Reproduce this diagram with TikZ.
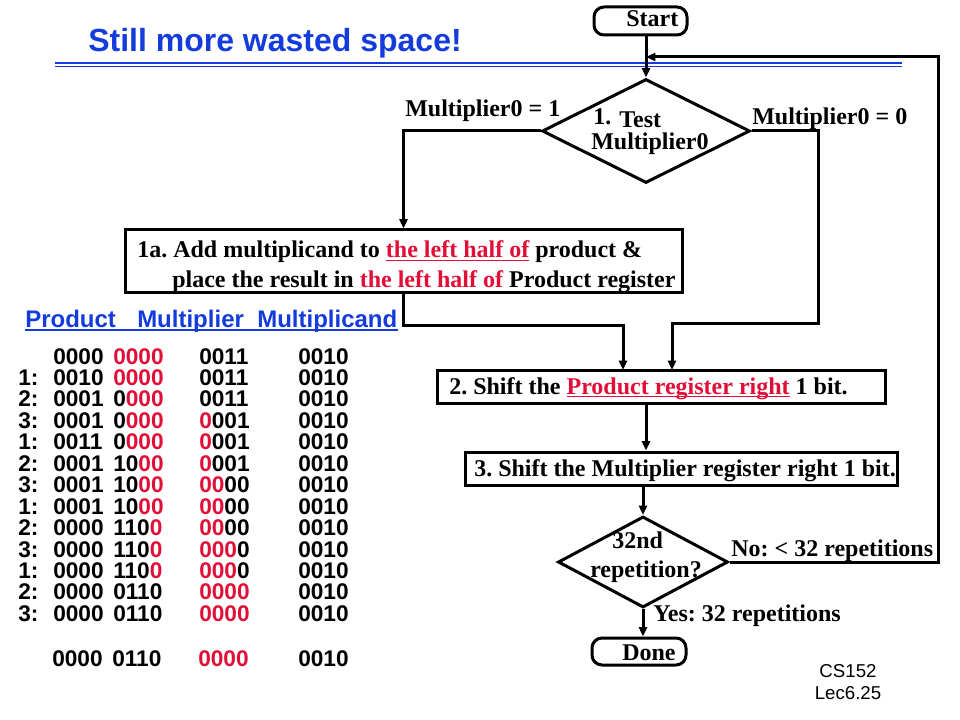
\documentclass[tikz,border=0pt]{standalone}
\usepackage{fontspec}
\setmainfont{Liberation Serif}
\newfontfamily\arialfont{Liberation Sans}
\usetikzlibrary{arrows.meta, shapes.geometric}
\definecolor{titleblue}{RGB}{20,60,220}
\definecolor{bitred}{RGB}{225,15,55}
\newcommand\ulin[2][1pt]{\setbox0=\hbox{#2}\rlap{\rule[-2.6pt]{\wd0}{#1}}\box0}
\frenchspacing

\begin{document}
\begin{tikzpicture}[x=0.75pt, y=-0.75pt, >={Triangle[length=7pt,width=6pt]},
        flowline/.style={->, line width=2.25pt},
        box/.style={draw, line width=2.25pt, inner sep=0pt},
        decision/.style={draw, diamond, line width=2.25pt, inner sep=0pt},
        terminal/.style={draw, line width=2.25pt, rounded corners=7.5pt, inner sep=0pt},
        flowtext/.style={font=\fontsize{18}{20}\selectfont\bfseries, inner sep=0pt, anchor=base west},
        tabtext/.style={font=\arialfont\fontsize{17}{19}\selectfont\bfseries, inner sep=0pt, anchor=base west},
        tabhead/.style={font=\arialfont\fontsize{18}{20}\selectfont\bfseries, text=titleblue, inner sep=0pt, anchor=base west},
        slidenum/.style={font=\arialfont\fontsize{14}{16}\selectfont, inner sep=0pt, anchor=base}]
        \useasboundingbox (0,0) rectangle (960,720);

        % Title
        \node[font=\arialfont\fontsize{24}{28}\selectfont\bfseries, text=titleblue, inner sep=0pt, anchor=base west] (title) at (88,52) {Still more wasted space!};
        \draw[titleblue, line width=1.9pt] (55,63) -- (902,63);
        \draw[titleblue, line width=0.75pt] (55,66.5) -- (902,66.5);

        % Table
        \node[tabhead] (hdr) at (25,327) {Product\hspace{16pt}Multiplier\hspace{10pt}Multiplicand};
        \draw[titleblue, line width=1.5pt] ([yshift=-2.5pt]hdr.base west) -- ([yshift=-2.5pt]hdr.base east);
        \foreach \lab/\pa/\pb/\pc/\ma/\mb [count=\r from 0] in {{}/0000/{}/0000/{}/0011, 1:/0010/{}/0000/{}/0011,
            2:/0001/0/000/{}/0011, 3:/0001/0/000/0/001, 1:/0011/0/000/0/001, 2:/0001/10/00/0/001,
            3:/0001/10/00/00/00, 1:/0001/10/00/00/00, 2:/0000/110/0/00/00, 3:/0000/110/0/000/0,
            1:/0000/110/0/000/0, 2:/0000/0110/{}/0000/{}, 3:/0000/0110/{}/0000/{}}
        {
            \pgfmathsetmacro\yy{364+21.45*\r}
            \node[tabtext] (lab\r) at (18,\yy) {\lab};
            \node[tabtext] (prodhi\r) at (53,\yy) {\pa};
            \node[tabtext] (prodlo\r) at (113,\yy) {\pb\textcolor{bitred}{\pc}};
            \node[tabtext] (mplier\r) at (199,\yy) {\textcolor{bitred}{\ma}\mb};
            \node[tabtext] (mcand\r) at (298,\yy) {0010};
        }
        \node[tabtext] (prodhiF) at (52,666) {0000};
        \node[tabtext] (prodloF) at (112,666) {0110};
        \node[tabtext] (mplierF) at (198,666) {\textcolor{bitred}{0000}};
        \node[tabtext] (mcandF) at (298,666) {0010};

        % Flowchart
        \node[terminal, minimum width=69.75pt, minimum height=21pt] (start) at (640.5,21) {};
        \node[flowtext] (starttxt) at (626,27) {Start};

        \node[decision, minimum width=156pt, minimum height=78pt] (test) at (646,131) {};
        \node[flowtext] (testnum) at (593,125) {1.};
        \node[flowtext] (testword) at (619,128) {Test};
        \node[flowtext] (testbit) at (591,150) {Multiplier0};
        \node[flowtext] (one) at (405,117) {Multiplier0 = 1};
        \node[flowtext] (zero) at (752,125) {Multiplier0 = 0};

        \node[box, minimum width=417.75pt, minimum height=47.25pt] (add) at (403.5,261.5) {};
        \node[flowtext] (addtxta) at (137,258) {1a. Add multiplicand to \textcolor{bitred}{\ulin{the left half of}} product \&};
        \node[flowtext] (addtxtb) at (172,287) {place the result in \textcolor{bitred}{the left half of} Product register};

        \node[box, minimum width=336pt, minimum height=24.75pt] (shiftp) at (661,386.5) {};
        \node[flowtext] (shiftptxt) at (449,394) {2. Shift the \textcolor{bitred}{\ulin{Product register right}} 1 bit.};

        \node[box, minimum width=324pt, minimum height=24.75pt] (shiftm) at (681,468.5) {};
        \node[flowtext] (shiftmtxt) at (474,476) {3. Shift the Multiplier register right 1 bit.};

        \node[decision, minimum width=127.5pt, minimum height=68.25pt] (rep) at (643,562) {};
        \node[flowtext] (reptxta) at (612,548) {32nd};
        \node[flowtext] (reptxtb) at (590,577) {repetition?};
        \node[flowtext] (no) at (731,556) {No: < 32 repetitions};
        \node[flowtext] (yes) at (653,621) {Yes: 32 repetitions};

        \node[terminal, minimum width=70.5pt, minimum height=20.25pt] (done) at (639,651.5) {};
        \node[flowtext] (donetxt) at (622,660) {Done};

        % Arrows
        \coordinate (back) at (938,57);
        \coordinate (leftin) at (623,370);
        \coordinate (rightin) at (672,370);
        \draw[flowline] (start.south -| test.north) -- (test.north);
        \draw[flowline] (test.west) -| (add.north);
        \draw[flowline] (test.east) -| ++(67,192) -| (rightin);
        \draw[flowline] (add.south) -- ++(0,31) -| (leftin);
        \draw[flowline] (shiftp.south -| test.south) -- (shiftm.north -| test.south);
        \draw[flowline] (shiftm.south -| rep.north) -- (rep.north);
        \draw[flowline] (rep.east) -| (back) -- (back -| test.north);
        \draw[flowline] (rep.south) -- (done.north -| rep.south);

        % Slide number
        \node[slidenum] (course) at (848,677) {CS152};
        \node[slidenum] (lecture) at (848,699) {Lec6.25};
    \end{tikzpicture}
\end{document}
